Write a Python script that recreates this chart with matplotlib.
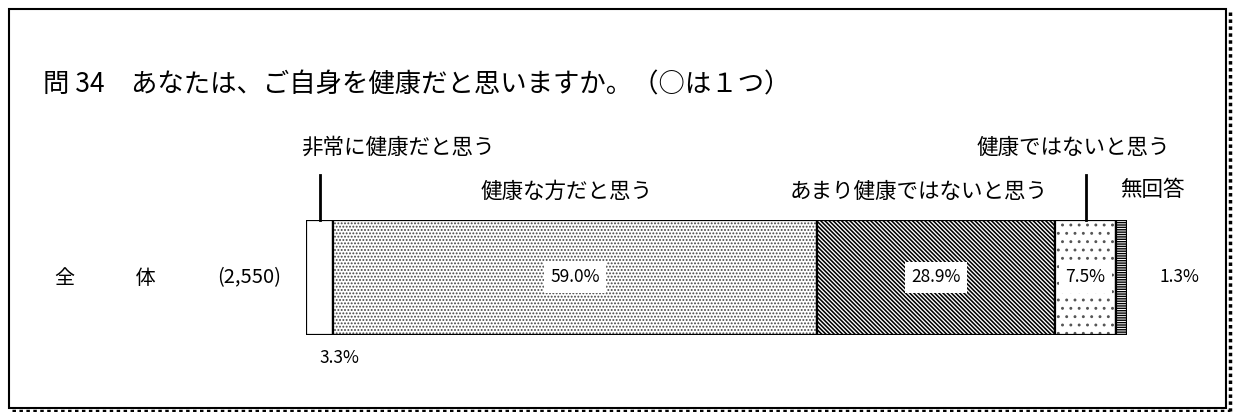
import matplotlib
matplotlib.use("Agg")
import matplotlib.pyplot as plt
from matplotlib.patches import Rectangle
from matplotlib.lines import Line2D

plt.rcParams['font.family'] = ['Noto Sans CJK JP', 'DejaVu Sans']

title = "問 34　あなたは、ご自身を健康だと思いますか。（○は１つ）"
categories = ["非常に健康だと思う", "健康な方だと思う", "あまり健康ではないと思う",
              "健康ではないと思う", "無回答"]
values = [3.3, 59.0, 28.9, 7.5, 1.3]
row_label = "全　　　体"
row_n = "(2,550)"

hatches = [None, '.....', '\\\\\\\\\\\\\\\\', '..', '-------']
hatch_colors = ['black', '#444444', 'black', '#555555', 'black']
hatch_lws = [0.8, 0.9, 1.15, 0.9, 1.0]

W, H = 1234, 412
fig = plt.figure(figsize=(W / 100, H / 100), dpi=100)

def fx(px):
    return px / W

def fy(py):
    return 1 - py / H

# outer frame
fig.add_artist(Rectangle((fx(9), fy(408)), fx(1226) - fx(9), fy(9) - fy(408),
                         transform=fig.transFigure, fill=False, lw=1.5, ec='black'))
fig.add_artist(Line2D([fx(1230), fx(1230)], [fy(12), fy(411)], transform=fig.transFigure,
                      lw=2.5, color='black', ls=(0, (1, 1))))
fig.add_artist(Line2D([fx(12), fx(1230)], [fy(411), fy(411)], transform=fig.transFigure,
                      lw=2.5, color='black', ls=(0, (1, 1))))

fig.text(fx(43), fy(85), title, fontsize=19, va='center', ha='left')

# bar axes
ax = fig.add_axes([fx(306), fy(335), fx(1127) - fx(306), fy(220) - fy(335)])
ax.set_xlim(0, sum(values))
ax.set_ylim(-0.5, 0.5)
ax.axis('off')

left = 0
centers = []
for v, h, hc, hl in zip(values, hatches, hatch_colors, hatch_lws):
    plt.rcParams['hatch.linewidth'] = hl
    ax.barh(0, v, left=left, height=1.0, color='white', edgecolor=hc, hatch=h, lw=0)
    ax.barh(0, v, left=left, height=1.0, fill=False, edgecolor='black', lw=1.6)
    centers.append(left + v / 2)
    left += v

# inside value labels
for i in (1, 2, 3):
    ax.text(centers[i], 0, f"{values[i]:.1f}%", ha='center', va='center', fontsize=12.5,
            bbox=dict(boxstyle='square,pad=0.35', fc='white', ec='none'))

# outside value labels
ax.text(centers[0], -0.7, f"{values[0]:.1f}%", ha='left', va='center', fontsize=12.5,
        transform=ax.transData)
ax.annotate(f"{values[4]:.1f}%", xy=(sum(values), 0), xytext=(38, 0), textcoords='offset points',
            ha='center', va='center', fontsize=12.5)

# leader lines
for i in (0, 3):
    ax.plot([centers[i], centers[i]], [0.5, 0.5 + 45 / 115], color='black', lw=2, clip_on=False)

# category labels (figure pixel positions)
label_pos = [(398, 148), (567, 192), (919, 192), (1073, 148), (1152, 190)]
for lab, (x, y) in zip(categories, label_pos):
    fig.text(fx(x), fy(y), lab, ha='center', va='center', fontsize=15.5)

fig.text(fx(55), fy(278), row_label, ha='left', va='center', fontsize=14.5)
fig.text(fx(281), fy(278), row_n, ha='right', va='center', fontsize=14.5)

fig.savefig("out.png", dpi=100)
